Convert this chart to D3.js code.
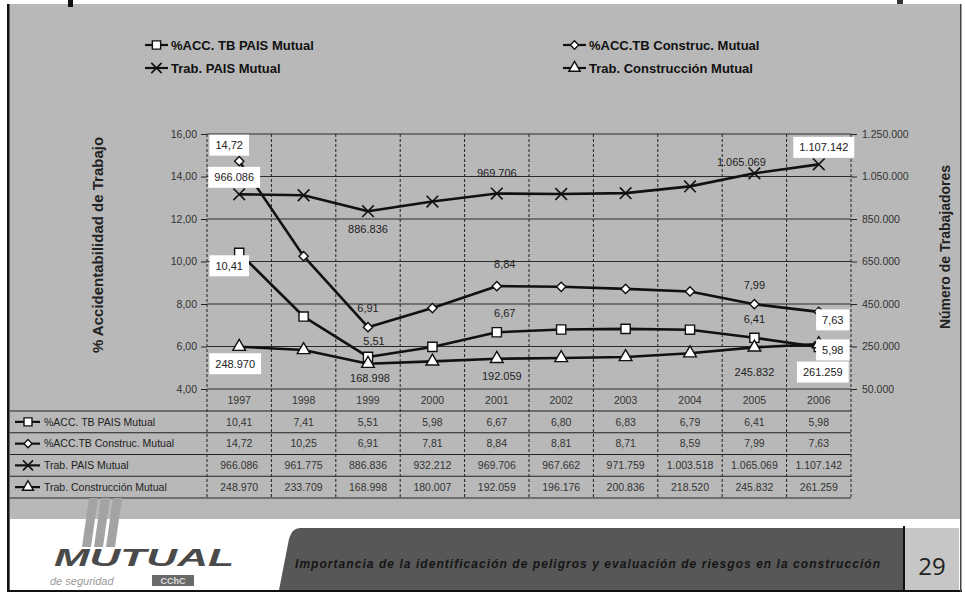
<!DOCTYPE html>
<html><head><meta charset="utf-8">
<script src="https://cdn.jsdelivr.net/npm/d3@7/dist/d3.min.js"></script>
<style>
body{margin:0;background:#fff}
svg{display:block}
text{font-family:Arial,"Liberation Sans",Helvetica,sans-serif}
</style></head>
<body><svg id="c" width="965" height="594"></svg>
<script>
// ---------------- DATA ----------------
const years = [1997,1998,1999,2000,2001,2002,2003,2004,2005,2006];
const pctPais   = [10.41,7.41,5.51,5.98,6.67,6.80,6.83,6.79,6.41,5.98];
const pctConst  = [14.72,10.25,6.91,7.81,8.84,8.81,8.71,8.59,7.99,7.63];
const trabPais  = [966086,961775,886836,932212,969706,967662,971759,1003518,1065069,1107142];
const trabConst = [248970,233709,168998,180007,192059,196176,200836,218520,245832,261259];
const seriesNames = ["%ACC. TB PAIS Mutual","%ACC.TB Construc. Mutual","Trab. PAIS Mutual","Trab. Construcción Mutual"];
const leftTicks  = [4,6,8,10,12,14,16];
const rightTicks = [50000,250000,450000,650000,850000,1050000,1250000];
const leftTitle  = "% Accidentabilidad de Trabajo";
const rightTitle = "Número de Trabajadores";
const footerText = "Importancia de la identificación de peligros y evaluación de riesgos en la construcción";
const pageNumber = "29";
// data labels: [series index, year index, dx, dy, boxed]
const dataLabels = [
  [1,0,-10,-16,true],[2,0,-5,-17,true],[0,0,-10,13,true],[3,0,-4,17,true],
  [2,2,0,18,false],[2,4,0,-20,false],[2,8,-13,-11,false],[2,9,5,-17,true],
  [1,2,0,-19,false],[0,2,6,-16,false],[3,2,2,14,false],
  [1,4,8,-22,false],[0,4,8,-19,false],[3,4,5,17,false],
  [1,8,0,-19,false],[0,8,0,-19,false],[3,8,0,25,false],
  [1,9,14,8,true],[0,9,14,3,true],[3,9,4,28,true]
];

// ---------------- SETUP ----------------
const svg = d3.select("#c");
const loc = d3.formatLocale({decimal:",", thousands:".", grouping:[3], currency:["$",""]});
const f2 = loc.format(",.2f");
const fInt = loc.format(",d");

const x  = d3.scaleBand().domain(years).range([207,851]);
const yL = d3.scaleLinear().domain([4,16]).range([389,134]);
const yR = d3.scaleLinear().domain([50000,1250000]).range([389,134]);

const symTimes = d3.symbolTimes || d3.symbolX || d3.symbolCross;
const symDia = d3.symbolDiamond2 || d3.symbolDiamond;
const series = [
  {name:seriesNames[0], values:pctPais,  y:yL, fmt:f2,   sym:d3.symbolSquare,  size:85},
  {name:seriesNames[1], values:pctConst, y:yL, fmt:f2,   sym:symDia,           size:55},
  {name:seriesNames[2], values:trabPais, y:yR, fmt:fInt, sym:symTimes,         size:90, stroke:true},
  {name:seriesNames[3], values:trabConst,y:yR, fmt:fInt, sym:d3.symbolTriangle,size:70}
];

// ---------------- BACKGROUND / FRAME ----------------
svg.append("rect").attr("width",965).attr("height",594).attr("fill","#fff");
svg.append("rect").attr("x",8).attr("y",4).attr("width",953).attr("height",588).attr("fill","#b8b8b8");
svg.append("rect").attr("x",68).attr("y",0).attr("width",5).attr("height",7).attr("fill","#111");
svg.append("rect").attr("x",897).attr("y",0).attr("width",6).attr("height",4).attr("fill","#333");

// ---------------- GRID ----------------
const grid = svg.append("g");
grid.selectAll("line.h").data(leftTicks).join("line")
  .attr("x1",207).attr("x2",851).attr("y1",d=>yL(d)).attr("y2",d=>yL(d))
  .attr("stroke","#2a2a2a").attr("stroke-width",1);
const vlines = years.map(y=>x(y)).concat([x.range()[1]]);
grid.selectAll("line.v").data(vlines).join("line")
  .attr("x1",d=>d).attr("x2",d=>d).attr("y1",134).attr("y2",498)
  .attr("stroke","#222").attr("stroke-width",1).attr("stroke-dasharray","3,2");

// ---------------- AXES ----------------
const axL = svg.append("g").attr("transform","translate(207,0)")
  .call(d3.axisLeft(yL).tickValues(leftTicks).tickFormat(f2).tickSize(6).tickPadding(4));
const axR = svg.append("g").attr("transform","translate(851,0)")
  .call(d3.axisRight(yR).tickValues(rightTicks).tickFormat(fInt).tickSize(6).tickPadding(5));
[axL,axR].forEach(a=>{
  a.select(".domain").remove();
  a.selectAll(".tick line").attr("stroke","#222");
  a.selectAll(".tick text").attr("fill","#333").style("font-size","10.5px").style("font-family","Arial,'Liberation Sans',sans-serif");
});

svg.append("text").attr("transform","translate(103,245) rotate(-90)")
  .attr("text-anchor","middle").attr("fill","#222").style("font-size","15px").style("font-weight","bold").text(leftTitle);
svg.append("text").attr("transform","translate(950,247) rotate(-90)")
  .attr("text-anchor","middle").attr("fill","#222").style("font-size","14px").style("font-weight","bold").text(rightTitle);

// ---------------- LINES & MARKERS ----------------
const cx = d=>x(d)+x.bandwidth()/2;
function marker(sel, s){
  sel.attr("d", d3.symbol(s.sym, s.size)())
    .attr("fill", s.stroke ? "none" : "#fff")
    .attr("stroke","#111").attr("stroke-width", s.stroke ? 1.6 : 1.4);
}
series.forEach(s=>{
  const line = d3.line().x((v,i)=>cx(years[i])).y(v=>s.y(v));
  svg.append("path").datum(s.values).attr("d",line)
    .attr("fill","none").attr("stroke","#111").attr("stroke-width",2.6).attr("stroke-linejoin","round");
});
series.forEach(s=>{
  svg.append("g").selectAll("path").data(s.values).join("path")
    .attr("transform",(v,i)=>`translate(${cx(years[i])},${s.y(v)})`)
    .call(marker, s);
});

// ---------------- DATA LABELS ----------------
const lg = svg.append("g");
dataLabels.forEach(([si,yi,dx,dy,boxed])=>{
  const s = series[si], v = s.values[yi];
  const px = cx(years[yi])+dx, py = s.y(v)+dy;
  const g = lg.append("g");
  const t = g.append("text").attr("x",px).attr("y",py).attr("dy","0.35em")
    .attr("text-anchor","middle").attr("fill","#222").style("font-size","11px").text(s.fmt(v));
  if(boxed){
    const b = t.node().getBBox();
    g.insert("rect","text").attr("x",b.x-6).attr("y",py-10.5).attr("width",b.width+12).attr("height",21).attr("fill","#fff");
  }
});

// ---------------- DATA TABLE ----------------
const rowY = d3.scaleBand().domain(seriesNames).range([411,498]);
const tbl = svg.append("g");
tbl.selectAll("line.r").data(seriesNames.map(n=>rowY(n)).concat([rowY.range()[1]])).join("line")
  .attr("x1",10).attr("x2",851).attr("y1",d=>d).attr("y2",d=>d).attr("stroke","#222").attr("stroke-width",1.2);
tbl.selectAll("text.yr").data(years).join("text")
  .attr("x",d=>cx(d)).attr("y",400).attr("dy","0.35em").attr("text-anchor","middle")
  .attr("fill","#333").style("font-size","10.5px").text(d=>d);
series.forEach(s=>{
  const ry = rowY(s.name)+rowY.bandwidth()/2;
  tbl.append("line").attr("x1",15).attr("x2",40).attr("y1",ry).attr("y2",ry).attr("stroke","#111").attr("stroke-width",2.2);
  tbl.append("path").attr("transform",`translate(28,${ry})`).call(marker,{...s,size:s.size*0.75});
  tbl.append("text").attr("x",44).attr("y",ry).attr("dy","0.35em").attr("fill","#222").style("font-size","10.5px").text(s.name);
  tbl.selectAll(null).data(s.values).join("text")
    .attr("x",(v,i)=>cx(years[i])).attr("y",ry).attr("dy","0.35em").attr("text-anchor","middle")
    .attr("fill","#333").style("font-size","10.5px").text(v=>s.fmt(v));
});

// ---------------- LEGEND ----------------
const legendPos = [[145,45],[563,45],[145,68],[563,68]];
series.forEach((s,i)=>{
  const [lx,ly] = legendPos[i];
  const g = svg.append("g");
  g.append("line").attr("x1",lx).attr("x2",lx+23).attr("y1",ly).attr("y2",ly).attr("stroke","#111").attr("stroke-width",2.2);
  g.append("path").attr("transform",`translate(${lx+11.5},${ly})`).call(marker,{...s,size:s.size*0.8});
  g.append("text").attr("x",lx+26).attr("y",ly).attr("dy","0.36em").attr("fill","#111")
    .style("font-size","13px").style("font-weight","bold").text(s.name);
});

// ---------------- FOOTER ----------------
const ft = svg.append("g");
ft.append("rect").attr("x",10).attr("y",519).attr("width",951).attr("height",71).attr("fill","#fff");
ft.append("path").attr("d","M300,528 H903 V590 H279 L289,539 Q292,528 300,528 Z").attr("fill","#575757");
ft.append("rect").attr("x",903).attr("y",526).attr("width",2).attr("height",64).attr("fill","#111");
ft.append("rect").attr("x",905).attr("y",528).attr("width",54).attr("height",62).attr("fill","#c6c6c6");
ft.append("text").attr("x",932).attr("y",575).attr("text-anchor","middle").attr("fill","#222")
  .style("font-size","24px").style("font-family","'Open Sans','DejaVu Sans',sans-serif").text(pageNumber);
ft.append("text").attr("x",295).attr("y",568).attr("fill","#151515")
  .attr("textLength",585).attr("lengthAdjust","spacing")
  .style("font-size","12px").style("font-style","italic").style("font-weight","bold").text(footerText);
// logo
[0,1,2].forEach(k=>{
  ft.append("path").attr("d",`M${82+k*12},547 L${89+k*12},498 L${98+k*12},498 L${91+k*12},547 Z`)
    .attr("fill","#a3a3a3");
});
ft.append("text").attr("x",54).attr("y",566).attr("fill","#4a4a4a")
  .attr("textLength",180).attr("lengthAdjust","spacingAndGlyphs")
  .style("font-size","23px").style("font-weight","bold").style("font-style","italic").text("MUTUAL");
ft.append("text").attr("x",50).attr("y",585).attr("fill","#9a9a9a")
  .style("font-size","11px").style("font-style","italic").text("de seguridad");
ft.append("rect").attr("x",152).attr("y",575).attr("width",42).attr("height",11).attr("fill","#6a6a6a");
ft.append("text").attr("x",173).attr("y",584).attr("text-anchor","middle").attr("fill","#ddd")
  .style("font-size","9px").style("font-weight","bold").text("CChC");
// slide borders
svg.append("rect").attr("x",7).attr("y",4).attr("width",2.5).attr("height",588).attr("fill","#111");
svg.append("rect").attr("x",7).attr("y",590).attr("width",955).attr("height",2).attr("fill","#111");
svg.append("rect").attr("x",960).attr("y",4).attr("width",1.5).attr("height",588).attr("fill","#444");
</script></body></html>
